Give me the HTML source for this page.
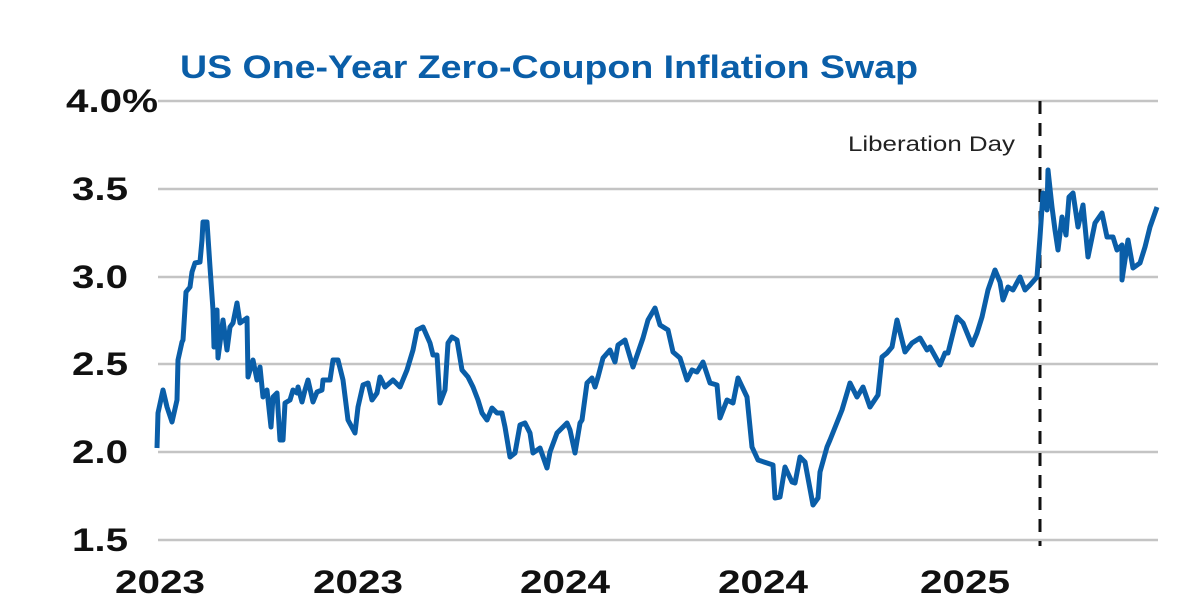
<!DOCTYPE html>
<html><head><style>body{margin:0;background:#fff}svg{display:block}</style></head><body>
<svg width="1200" height="600" viewBox="0 0 1200 600" xmlns="http://www.w3.org/2000/svg">
<rect width="1200" height="600" fill="#fff"/>
<text x="180" y="78" font-family="Liberation Sans, sans-serif" font-weight="bold" font-size="32" fill="#0a5ea8" textLength="738" lengthAdjust="spacingAndGlyphs">US One-Year Zero-Coupon Inflation Swap</text>
<g stroke="#c4c4c4" stroke-width="2.5">
<line x1="158" y1="101" x2="1158" y2="101"/><line x1="158" y1="189" x2="1158" y2="189"/><line x1="158" y1="277" x2="1158" y2="277"/><line x1="158" y1="364" x2="1158" y2="364"/><line x1="158" y1="452" x2="1158" y2="452"/><line x1="158" y1="540" x2="1158" y2="540"/>
</g>
<g font-family="Liberation Sans, sans-serif" font-weight="bold" font-size="32" fill="#111">
<text x="66" y="112" textLength="92" lengthAdjust="spacingAndGlyphs">4.0%</text>
<text x="72" y="200" textLength="56" lengthAdjust="spacingAndGlyphs">3.5</text>
<text x="72" y="288" textLength="56" lengthAdjust="spacingAndGlyphs">3.0</text>
<text x="72" y="375" textLength="56" lengthAdjust="spacingAndGlyphs">2.5</text>
<text x="72" y="463" textLength="56" lengthAdjust="spacingAndGlyphs">2.0</text>
<text x="72" y="551" textLength="56" lengthAdjust="spacingAndGlyphs">1.5</text>
</g>
<g font-family="Liberation Sans, sans-serif" font-weight="bold" font-size="32" fill="#111">
<text x="115" y="593" textLength="90" lengthAdjust="spacingAndGlyphs">2023</text>
<text x="313" y="593" textLength="90" lengthAdjust="spacingAndGlyphs">2023</text>
<text x="520" y="593" textLength="90" lengthAdjust="spacingAndGlyphs">2024</text>
<text x="718" y="593" textLength="90" lengthAdjust="spacingAndGlyphs">2024</text>
<text x="920" y="593" textLength="90" lengthAdjust="spacingAndGlyphs">2025</text>
</g>
<line x1="1040" y1="101" x2="1040" y2="546" stroke="#111" stroke-width="3" stroke-dasharray="13,9"/>
<text x="848" y="151" font-family="Liberation Sans, sans-serif" font-size="21" fill="#222" textLength="167" lengthAdjust="spacingAndGlyphs">Liberation Day</text>
<polyline fill="none" stroke="#0a5ea8" stroke-width="5" stroke-linejoin="round" points="157,448 158,413 163,390 167,407 172,422 177,400 178,360 182,342 183,340 186,292 190,287 192,272 195,263 200,262 202,240 203,222 207,222 210,267 213,310 214,347 217,310 218,358 223,320 227,350 230,327 233,323 237,303 240,323 247,318 248,377 253,360 257,380 260,367 263,397 267,390 271,427 273,397 277,393 280,440 283,440 285,403 290,400 293,390 297,393 298,387 302,402 305,390 308,380 313,402 317,392 322,390 323,380 330,380 333,360 338,360 343,380 348,420 355,433 358,407 363,385 368,383 372,400 377,393 380,377 385,387 393,380 400,387 407,370 413,350 417,330 423,327 430,343 433,355 437,355 440,403 445,390 448,343 452,337 457,340 462,370 468,377 473,387 478,400 482,413 487,420 492,408 497,413 502,413 505,427 510,457 515,453 520,425 525,423 530,433 533,453 540,448 547,468 550,452 557,433 567,423 570,430 575,453 580,423 582,420 587,383 592,378 595,387 598,377 603,358 610,350 615,362 618,345 625,340 633,367 643,338 648,320 655,308 660,325 668,330 673,352 680,358 687,380 692,370 697,372 703,362 710,383 717,385 720,418 727,400 733,403 738,378 747,397 752,447 758,460 767,463 773,465 775,498 780,497 785,467 792,482 795,483 800,457 805,462 813,505 818,498 820,472 827,447 830,440 836,425 842,410 850,383 857,397 863,387 870,407 878,395 882,357 887,353 892,347 897,320 902,340 905,352 912,343 920,338 927,350 930,347 940,365 945,353 948,353 957,317 963,323 972,345 977,333 982,317 988,290 995,270 1000,282 1003,300 1008,287 1013,290 1020,277 1025,290 1030,285 1037,277 1040,237 1043,193 1047,210 1048,170 1052,207 1055,230 1058,250 1062,217 1066,235 1069,197 1073,193 1078,227 1083,205 1088,257 1095,223 1102,213 1107,237 1113,237 1117,250 1122,245 1122,280 1128,240 1133,268 1140,263 1145,247 1150,227 1157,207"/>
</svg>
</body></html>
